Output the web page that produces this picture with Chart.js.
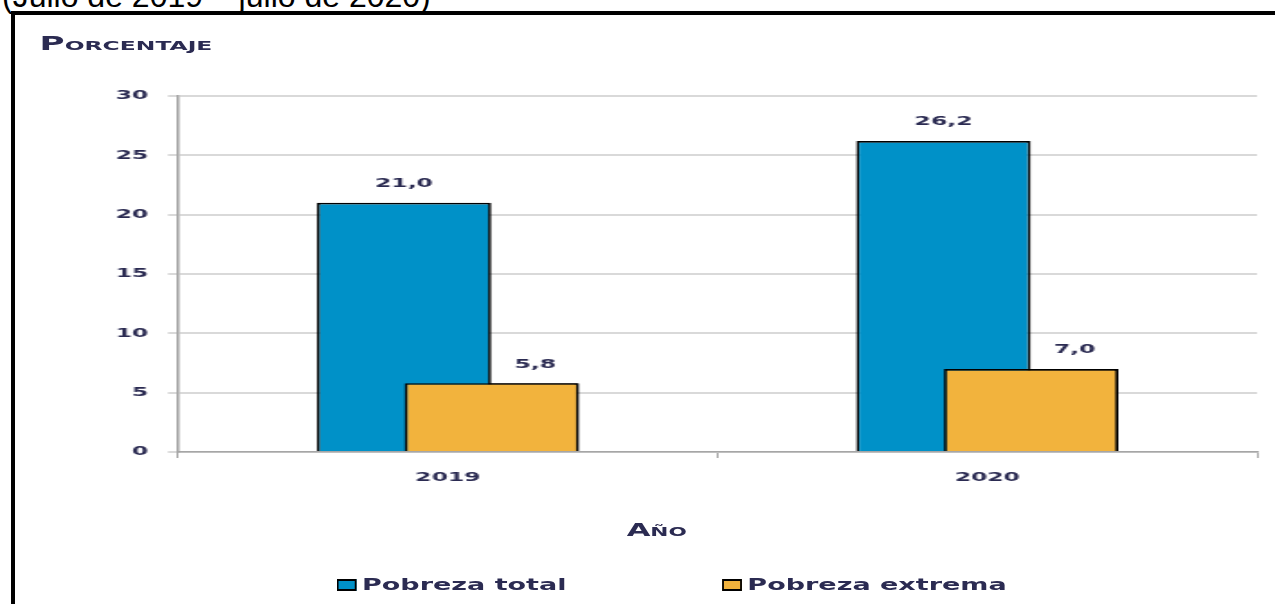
<!DOCTYPE html>
<html lang="es">
<head>
<meta charset="utf-8">
<title>Pobreza total y extrema</title>
<script src="https://cdn.jsdelivr.net/npm/chart.js@4.4.1/dist/chart.umd.min.js"></script>
<style>
    html, body {
        margin: 0;
        padding: 0;
        background: #fff;
        overflow: hidden;
        width: 1275px;
        height: 604px;
    }
    .subtitulo {
        position: absolute;
        left: 2px;
        top: -20px;
        font-family: "Liberation Sans", Arial, sans-serif;
        font-size: 32px;
        line-height: 32px;
        color: #000;
        white-space: nowrap;
    }
    .marco {
        position: absolute;
        left: 11px;
        top: 11px;
        width: 1400px;
        height: 700px;
        border: 4px solid #000;
    }
    /* el grafico original esta estirado a lo ancho */
    .lienzo {
        position: absolute;
        left: 0;
        top: 0;
        width: 708px;
        height: 604px;
        transform: scaleX(1.8008);
        transform-origin: 0 0;
    }
    .texto {
        position: absolute;
        font-family: "DejaVu Sans", sans-serif;
        font-weight: bold;
        color: #2b2b52;
        white-space: nowrap;
    }
    .eje-y {
        left: 22px;
        top: 32px;
        font-size: 19px;
        font-variant: small-caps;
    }
    .eje-x {
        left: 348px;
        top: 520px;
        font-size: 17px;
        font-variant: small-caps;
    }
    .leyenda {
        top: 576px;
        font-size: 15px;
        display: flex;
        align-items: center;
    }
    .caja {
        display: inline-block;
        width: 11px;
        height: 12px;
        box-sizing: border-box;
        border: 2px solid #000;
        border-left-width: 1.5px;
        border-right-width: 1.5px;
        margin-right: 3px;
    }
</style>
</head>
<body>
<div class="subtitulo">(Julio de 2019 – julio de 2020)</div>
<div class="marco"></div>
<div class="lienzo">
    <canvas id="graficoPobreza"></canvas>
    <div class="texto eje-y">Porcentaje</div>
    <div class="texto eje-x">Año</div>
    <div class="texto leyenda" style="left:187px"><span class="caja" style="background:#0091c8"></span>Pobreza total</div>
    <div class="texto leyenda" style="left:401px"><span class="caja" style="background:#f2b33d"></span>Pobreza extrema</div>
</div>
<script>
// Datos del grafico
const categorias = ['2019', '2020'];
const pobrezaTotal = [21.0, 26.2];
const pobrezaExtrema = [5.8, 7.0];
const ticksY = [0, 5, 10, 15, 20, 25, 30];

const colorTexto = '#2b2b52';
const fuenteEjes = { family: 'DejaVu Sans', size: 13, weight: 'bold' };

// Dibuja la serie naranja encima de la azul y pone los valores sobre las barras
const etiquetasValores = {
    id: 'etiquetasValores',
    afterDatasetsDraw(chart) {
        const ctx = chart.ctx;
        chart.getDatasetMeta(1).controller.draw();
        ctx.save();
        ctx.font = 'bold 13px "DejaVu Sans"';
        ctx.fillStyle = colorTexto;
        ctx.textAlign = 'center';
        ctx.textBaseline = 'middle';
        chart.data.datasets.forEach(function(ds, i) {
            const meta = chart.getDatasetMeta(i);
            meta.data.forEach(function(barra, j) {
                const texto = ds.data[j].toFixed(1).replace('.', ',');
                const desplazamiento = i === 1 ? barra.width * 0.25 : 0;
                ctx.fillText(texto, barra.x + desplazamiento, barra.y - 19);
            });
        });
        ctx.restore();
    }
};

function inicializarGrafica() {
    const ctx = document.getElementById('graficoPobreza');
    new Chart(ctx, {
        type: 'bar',
        data: {
            labels: categorias,
            datasets: [{
                label: 'Pobreza total',
                data: pobrezaTotal,
                backgroundColor: '#0091c8',
                borderColor: '#000',
                borderWidth: 1.7,
                categoryPercentage: 0.325,
                barPercentage: 1.99
            }, {
                label: 'Pobreza extrema',
                data: pobrezaExtrema,
                backgroundColor: '#f2b33d',
                borderColor: '#000',
                borderWidth: 1.7,
                categoryPercentage: 0.325,
                barPercentage: 1.99
            }]
        },
        options: {
            responsive: true,
            maintainAspectRatio: false,
            animation: false,
            layout: {
                padding: { left: 0, right: 10, top: 96, bottom: 112 }
            },
            plugins: {
                legend: { display: false },
                tooltip: { enabled: false }
            },
            scales: {
                x: {
                    grid: {
                        display: true,
                        drawOnChartArea: false,
                        tickLength: 6,
                        color: '#a6a6a6',
                        lineWidth: 1
                    },
                    border: { color: '#a6a6a6', width: 1.5 },
                    ticks: { font: fuenteEjes, color: colorTexto, padding: 12 },
                    afterFit(scale) { scale.height = 40; }
                },
                y: {
                    min: ticksY[0],
                    max: ticksY[ticksY.length - 1],
                    afterBuildTicks(scale) {
                        scale.ticks = ticksY.map(v => ({ value: v }));
                    },
                    grid: {
                        color: '#d9d9d9',
                        lineWidth: 2,
                        tickLength: 5.6
                    },
                    border: { color: '#a6a6a6', width: 1.6 },
                    ticks: { font: fuenteEjes, color: colorTexto, padding: 11 },
                    afterFit(scale) { scale.width = 98.9; }
                }
            }
        },
        plugins: [etiquetasValores]
    });
}

document.addEventListener('DOMContentLoaded', function() {
    inicializarGrafica();
});
</script>
</body>
</html>
